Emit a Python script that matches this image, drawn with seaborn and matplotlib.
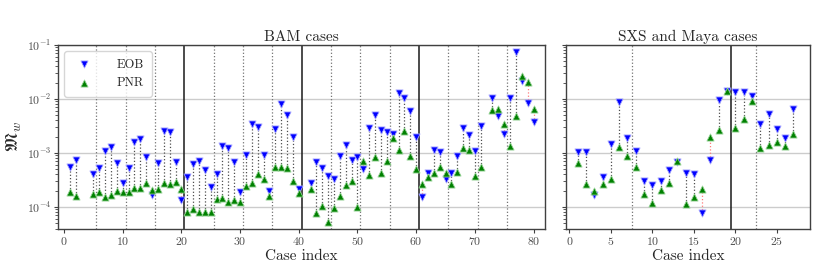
import numpy as np
import pandas as pd
import matplotlib

matplotlib.use("Agg")
import matplotlib.pyplot as plt  # noqa: E402
import seaborn as sns  # noqa: E402

# --- data ---
bam_case = [1, 2] + list(range(5, 41)) + list(range(42, 72)) + list(range(73, 81))
bam_eob = [
    5.6e-4, 7.4e-4,
    4.1e-4, 5.2e-4, 1.1e-3, 1.27e-3, 6.5e-4, 2.8e-4, 5.35e-4, 1.58e-3, 1.82e-3, 8.3e-4,
    1.69e-4, 6.6e-4, 2.6e-3, 2.42e-3, 6.9e-4, 1.37e-4, 3.6e-4, 6.25e-4, 7.2e-4, 4.8e-4,
    2.3e-4, 4.1e-4, 1.35e-3, 1.24e-3, 6.8e-4, 1.87e-4, 9.2e-4, 3.44e-3, 2.99e-3, 9.3e-4,
    1.95e-4, 2.78e-3, 7.96e-3, 4.99e-3, 1.95e-3, 2.12e-4,
    2.82e-4, 6.8e-4, 5.35e-4, 3.75e-4, 3.3e-4, 8.8e-4, 1.41e-3, 7.4e-4, 8.4e-4, 5.13e-4,
    2.9e-3, 4.99e-3, 2.7e-3, 2.48e-3, 2.25e-3, 1.26e-2, 1.06e-2, 6.1e-3, 2.0e-3, 1.55e-4,
    4.2e-4, 1.14e-3, 1.03e-3, 3.3e-4, 4.33e-4, 8.9e-4, 2.9e-3, 2.19e-3, 1.1e-3, 3.2e-3,
    1.04e-2, 4.78e-3, 2.25e-3, 1.06e-2, 7.5e-2, 2.19e-2, 8.4e-3, 3.8e-3,
]
bam_pnr = [
    1.87e-4, 1.6e-4,
    1.77e-4, 1.87e-4, 1.55e-4, 1.64e-4, 2.0e-4, 1.87e-4, 1.87e-4, 2.25e-4, 2.25e-4, 2.74e-4,
    2.06e-4, 2.19e-4, 2.82e-4, 2.67e-4, 2.94e-4, 2.15e-4, 7.96e-5, 9.2e-5, 8.2e-5, 8.2e-5,
    8.0e-5, 1.39e-4, 1.45e-4, 1.24e-4, 1.33e-4, 1.22e-4, 2.41e-4, 2.78e-4, 4.08e-4, 3.35e-4,
    1.6e-4, 5.58e-4, 5.43e-4, 5.35e-4, 3.03e-4, 1.82e-4,
    2.15e-4, 7.85e-5, 1.03e-4, 5.35e-5, 9.7e-5, 1.6e-4, 2.55e-4, 3.07e-4, 1.01e-4, 7.0e-4,
    3.97e-4, 8.55e-4, 4.33e-4, 7.2e-4, 1.92e-3, 1.12e-3, 2.55e-3, 8.9e-4, 5.06e-4, 2.63e-4,
    3.65e-4, 4.33e-4, 5.5e-4, 4.2e-4, 2.63e-4, 4.39e-4, 1.26e-3, 1.12e-3, 3.8e-4, 5.43e-4,
    6.25e-3, 6.44e-3, 3.4e-3, 1.37e-3, 4.9e-3, 2.67e-2, 2.07e-2, 6.44e-3,
]
bam_dotted = [5.5, 10.5, 15.5, 25.5, 30.5, 35.5, 45.5, 50.5, 55.5, 65.5, 70.5, 75.5]
bam_solid = [20.5, 40.5, 60.5]

sxs_case = list(range(1, 28))
sxs_eob = [
    1.03e-3, 1.03e-3, 1.69e-4, 3.65e-4, 1.47e-3, 8.93e-3, 1.9e-3, 1.07e-3, 3.03e-4,
    2.59e-4, 2.99e-4, 4.84e-4, 6.7e-4, 4.33e-4, 4.14e-4, 7.85e-5, 7.4e-4, 9.6e-3,
    1.41e-2, 1.37e-2, 1.37e-2, 1.14e-2, 3.44e-3, 5.27e-3, 2.74e-3, 1.9e-3, 6.53e-3,
]
sxs_pnr = [
    6.44e-4, 2.67e-4, 1.95e-4, 2.63e-4, 3.25e-4, 1.27e-3, 8.8e-4, 5.43e-4, 1.72e-4,
    1.17e-4, 2.04e-4, 2.74e-4, 7.0e-4, 1.12e-4, 1.51e-4, 2.12e-4, 2.0e-3, 2.7e-3,
    1.42e-2, 2.9e-3, 4.2e-3, 9.3e-3, 1.26e-3, 1.41e-3, 1.58e-3, 1.35e-3, 2.22e-3,
]
sxs_dotted = [7.5, 22.5]
sxs_solid = [19.5]

sns.set_style("ticks")
plt.rcParams.update(
    {
        "font.family": "serif",
        "font.serif": ["cmr10", "DejaVu Serif"],
        "mathtext.fontset": "cm",
        "axes.formatter.use_mathtext": True,
        "axes.edgecolor": "0.25",
        "xtick.color": "0.25",
        "ytick.color": "0.25",
        "xtick.labelcolor": "0.3",
        "ytick.labelcolor": "0.3",
    }
)


def draw_panel(ax, case, eob, pnr, dotted, solid, title, legend=False):
    df = pd.DataFrame({"case": case, "EOB": eob, "PNR": pnr})
    lo = df[["EOB", "PNR"]].min(axis=1)
    hi = df[["EOB", "PNR"]].max(axis=1)
    colors = np.where(df["EOB"] >= df["PNR"], "0.3", "#ff7a7a")
    ax.vlines(df["case"], lo, hi, colors=colors, linestyles=":", linewidth=0.9, zorder=2)

    for x in dotted:
        ax.axvline(x, color="0.45", ls=":", lw=0.9, zorder=1)
    for x in solid:
        ax.axvline(x, color="0.1", ls="-", lw=1.1, zorder=1)

    sns.scatterplot(data=df, x="case", y="EOB", ax=ax, marker="v", color="blue",
                    edgecolor="#a0a0ff", linewidth=0.6, s=26, label="EOB", zorder=3,
                    legend=legend)
    sns.scatterplot(data=df, x="case", y="PNR", ax=ax, marker="^", color="green",
                    edgecolor="#90d090", linewidth=0.6, s=26, label="PNR", zorder=4,
                    legend=legend)

    ax.set_yscale("log")
    ax.set_ylim(4e-5, 1e-1)
    ax.yaxis.grid(True, which="major", color="0.8", lw=1.0)
    ax.set_axisbelow(True)
    ax.set_title(title, fontsize=11, pad=3)
    ax.set_xlabel("Case index", fontsize=11, labelpad=1)
    ax.set_ylabel("")
    ax.tick_params(axis="both", labelsize=8.5, length=3, width=0.8, pad=2)
    ax.tick_params(axis="y", which="minor", length=2, width=0.6)
    for sp in ax.spines.values():
        sp.set_linewidth(1.0)


fig = plt.figure(figsize=(8.3, 2.77), dpi=100)
ax1 = fig.add_axes([0.070, 0.175, 0.587, 0.663])
ax2 = fig.add_axes([0.682, 0.175, 0.294, 0.663], sharey=ax1)

draw_panel(ax1, bam_case, bam_eob, bam_pnr, bam_dotted, bam_solid, "BAM cases", legend=True)
draw_panel(ax2, sxs_case, sxs_eob, sxs_pnr, sxs_dotted, sxs_solid, "SXS and Maya cases")

ax1.set_xlim(-1, 82)
ax1.set_xticks([0, 10, 20, 30, 40, 50, 60, 70, 80])
ax2.set_xlim(-0.4, 29)
ax2.set_xticks([0, 5, 10, 15, 20, 25])
ax2.tick_params(axis="y", labelleft=False)

ax1.set_ylabel(r"$\mathfrak{M}_w$", fontsize=13, labelpad=2)
ax1.legend(loc="upper left", fontsize=9, handletextpad=1.6, borderpad=0.6,
           framealpha=0.8, edgecolor="0.8")

fig.savefig("out.png", dpi=100)
